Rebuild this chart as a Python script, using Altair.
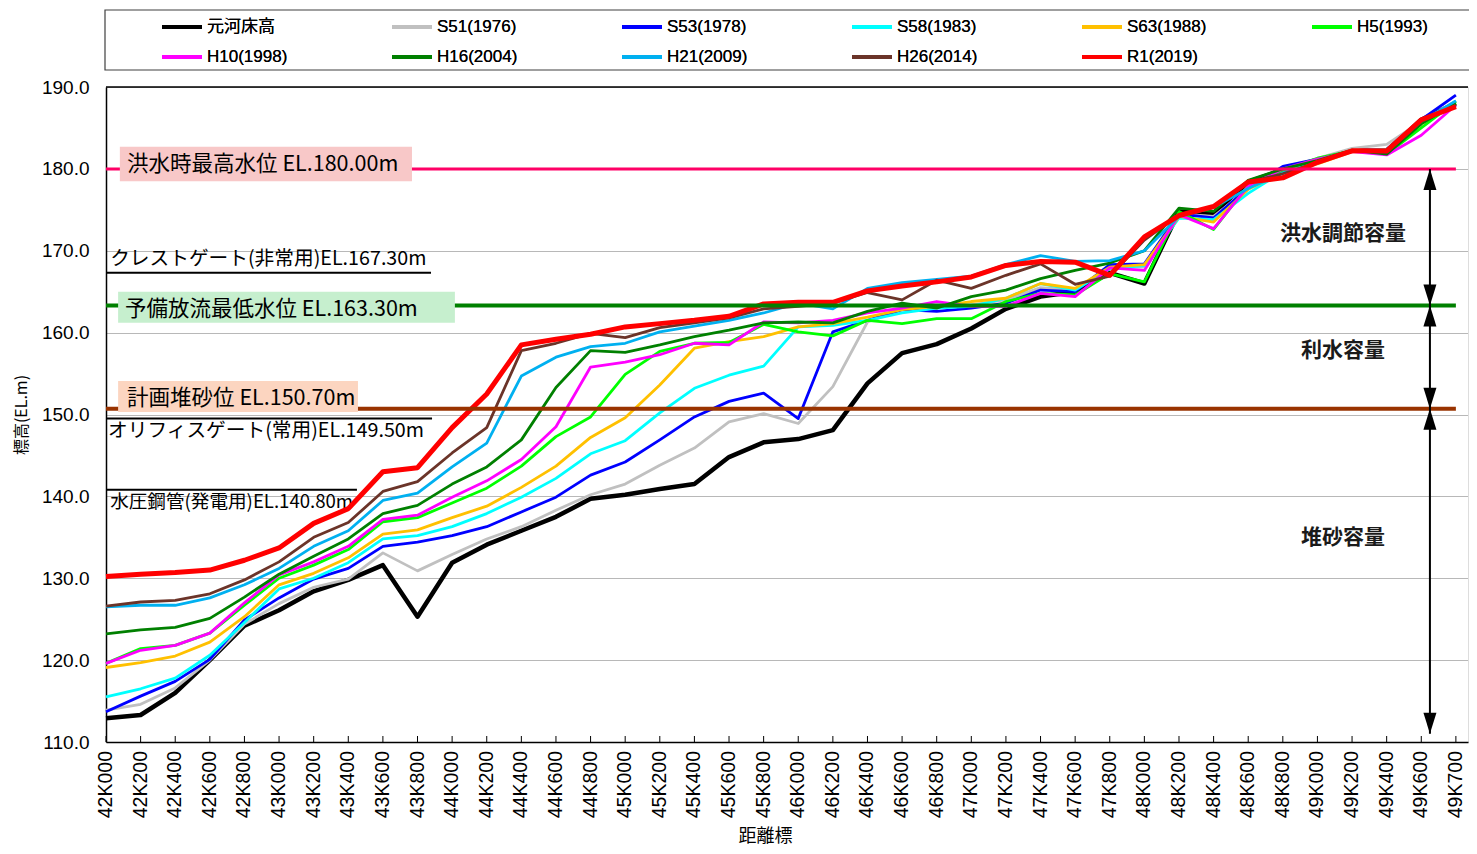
import altair as alt
import pandas as pd

# ---------------- data ----------------
stations = ["42K000", "42K200", "42K400", "42K600", "42K800",
            "43K000", "43K200", "43K400", "43K600", "43K800",
            "44K000", "44K200", "44K400", "44K600", "44K800",
            "45K000", "45K200", "45K400", "45K600", "45K800",
            "46K000", "46K200", "46K400", "46K600", "46K800",
            "47K000", "47K200", "47K400", "47K600", "47K800",
            "48K000", "48K200", "48K400", "48K600", "48K800",
            "49K000", "49K200", "49K400", "49K600", "49K700"]

series_names = ["元河床高", "S51(1976)", "S53(1978)", "S58(1983)", "S63(1988)", "H5(1993)",
                "H10(1998)", "H16(2004)", "H21(2009)", "H26(2014)", "R1(2019)"]
series_colors = ["#000000", "#C0C0C0", "#0000FF", "#00FFFF", "#FFC000", "#00FF00",
                 "#FF00FF", "#008000", "#00B0F0", "#6B3429", "#FF0000"]
series_widths = [4.5, 2.8, 2.8, 2.8, 2.8, 2.8, 2.8, 2.8, 2.8, 2.8, 5]

v_base = [112.9, 113.3, 116.0, 120.0, 124.2, 126.1, 128.4, 129.8, 131.6, 125.3,
          131.9, 134.1, 135.8, 137.5, 139.7, 140.2, 140.9, 141.5, 144.8, 146.6,
          147.0, 148.1, 153.8, 157.5, 158.6, 160.5, 162.9, 164.4, 165.0, 167.3,
          166.0, 174.8, 174.6, 178.4, 179.9, 181.1, 182.3, 182.1, 186.0, 188.0]
v_s51 = [113.9, 114.6, 116.6, 120.0, 124.4, 126.9, 128.9, 129.9, 133.1, 130.9,
         132.9, 134.8, 136.3, 138.3, 140.2, 141.5, 143.8, 145.9, 149.1, 150.1,
         148.9, 153.4, 161.3, 162.8, 163.2, 163.4, 164.0, 165.5, 165.2, 168.0,
         168.0, 174.5, 174.2, 177.5, 180.0, 181.3, 182.5, 183.0, 185.8, 188.3]
v_s53 = [113.7, 115.6, 117.4, 120.1, 124.9, 127.6, 129.9, 131.2, 133.9, 134.4,
         135.2, 136.3, 138.1, 139.9, 142.6, 144.2, 146.9, 149.7, 151.6, 152.6,
         149.5, 160.1, 161.5, 162.8, 162.6, 163.0, 163.6, 165.2, 165.0, 168.3,
         168.4, 174.5, 174.0, 177.7, 180.3, 181.2, 182.2, 182.4, 186.0, 189.0]
v_s58 = [115.5, 116.5, 117.8, 120.6, 124.6, 128.7, 130.0, 131.9, 134.8, 135.2,
         136.3, 137.9, 139.9, 142.2, 145.2, 146.8, 150.2, 153.2, 154.8, 155.9,
         160.7, 160.9, 161.5, 162.4, 163.0, 163.2, 164.2, 166.0, 165.2, 167.8,
         168.2, 174.0, 173.8, 177.0, 179.7, 181.0, 182.2, 182.4, 185.5, 188.3]
v_s63 = [119.1, 119.7, 120.5, 122.2, 125.3, 129.2, 130.6, 132.5, 135.4, 135.9,
         137.4, 138.8, 141.1, 143.7, 147.2, 149.6, 153.6, 158.1, 158.9, 159.5,
         160.7, 161.1, 161.9, 162.8, 163.2, 163.8, 164.2, 166.0, 165.4, 168.0,
         168.3, 174.2, 173.5, 177.5, 179.6, 180.6, 182.1, 182.0, 185.5, 188.0]
v_h5 = [119.6, 121.4, 121.8, 123.3, 126.7, 130.0, 131.6, 133.5, 136.9, 137.4,
        139.2, 141.0, 143.7, 147.3, 149.7, 154.9, 157.7, 158.7, 158.8, 161.0,
        160.1, 159.6, 161.5, 161.1, 161.7, 161.7, 163.8, 164.8, 164.6, 167.2,
        166.2, 174.8, 172.6, 178.0, 179.8, 181.3, 182.2, 181.8, 185.0, 188.2]
v_h10 = [119.6, 121.2, 121.8, 123.3, 127.0, 130.4, 132.0, 133.9, 137.2, 137.7,
         139.9, 141.9, 144.5, 148.5, 155.8, 156.4, 157.3, 158.7, 158.5, 161.3,
         161.2, 161.5, 162.4, 163.0, 163.8, 163.2, 163.2, 164.8, 164.4, 167.9,
         167.6, 174.4, 172.7, 177.9, 180.0, 181.2, 182.1, 181.7, 184.1, 187.8]
v_h16 = [123.2, 123.7, 124.0, 125.1, 127.7, 130.5, 132.7, 134.8, 137.9, 138.9,
         141.5, 143.6, 146.9, 153.3, 157.8, 157.6, 158.5, 159.5, 160.3, 161.2,
         161.3, 161.2, 162.6, 163.6, 163.0, 164.4, 165.2, 166.6, 167.6, 168.5,
         170.0, 175.2, 174.8, 178.6, 180.0, 181.0, 182.3, 181.8, 185.5, 188.0]
v_h21 = [126.5, 126.7, 126.7, 127.6, 129.2, 131.2, 133.9, 135.8, 139.5, 140.4,
         143.6, 146.5, 154.7, 157.0, 158.3, 158.7, 160.1, 160.8, 161.5, 162.4,
         163.6, 162.9, 165.4, 166.1, 166.5, 166.9, 168.3, 169.4, 168.7, 168.8,
         170.0, 174.2, 175.3, 177.6, 179.5, 180.7, 182.2, 182.3, 185.8, 188.3]
v_h26 = [126.6, 127.1, 127.3, 128.1, 129.8, 132.0, 135.0, 136.8, 140.6, 141.8,
         145.3, 148.4, 157.8, 158.7, 159.9, 159.4, 160.6, 161.2, 161.8, 162.9,
         163.2, 163.6, 164.9, 164.0, 166.4, 165.4, 167.0, 168.4, 165.9, 166.9,
         171.3, 174.4, 175.3, 178.4, 179.4, 180.8, 182.2, 182.0, 185.8, 187.7]
v_r1 = [130.2, 130.5, 130.7, 131.0, 132.2, 133.7, 136.7, 138.5, 143.0, 143.5,
        148.4, 152.5, 158.5, 159.2, 159.8, 160.7, 161.1, 161.5, 162.0, 163.5,
        163.7, 163.7, 165.1, 165.7, 166.2, 166.8, 168.2, 168.7, 168.6, 167.0,
        171.7, 174.3, 175.4, 178.4, 178.9, 180.8, 182.2, 182.2, 186.0, 187.6]
all_values = [v_base, v_s51, v_s53, v_s58, v_s63, v_h5, v_h10, v_h16, v_h21, v_h26, v_r1]

# reference water levels
ref_levels = [180.0, 163.3, 150.7]
ref_colors = ["#FF0066", "#008000", "#993300"]
ref_widths = [3, 4, 4]
ref_texts = ["洪水時最高水位 EL.180.00m", "予備放流最低水位 EL.163.30m", "計画堆砂位 EL.150.70m"]
ref_box_fill = ["#F8C8C8", "#C6EFCE", "#FCD5C0"]
ref_box_x0 = [0.40, 0.35, 0.35]
ref_box_x1 = [8.84, 10.08, 7.28]
ref_box_y0 = [178.5, 161.2, 150.3]
ref_box_y1 = [182.7, 165.0, 154.1]
ref_text_x = [0.61, 0.55, 0.61]
ref_text_y = [180.5, 162.8, 151.9]

# outlet levels (thin black lines)
gate_levels = [167.3, 149.5, 140.8]
gate_x1 = [9.39, 9.42, 7.25]
gate_texts = ["クレストゲート(非常用)EL.167.30m", "オリフィスゲート(常用)EL.149.50m", "水圧鋼管(発電用)EL.140.80m"]
gate_text_x = [0.12, 0.06, 0.12]
gate_text_y = [169.0, 148.0, 139.3]
gate_font_sizes = [19.7, 19.7, 18.6]

# capacity labels / arrows
cap_texts = ["洪水調節容量", "利水容量", "堆砂容量"]
cap_text_y = [172.05, 157.76, 134.92]
cap_text_x = 35.74
arrow_x = 38.25
arrow_up_tips = [180.0, 163.3, 150.7]
arrow_down_tips = [163.3, 150.7, 111.0]

# ---------------- tables ----------------
rows = []
for name, vals, w in zip(series_names, all_values, series_widths):
    for i, v in enumerate(vals):
        rows.append({"series": name, "idx": i, "elev": v, "w": w})
df = pd.DataFrame(rows)

n_last = len(stations) - 1
XMAX = 39.35
xscale = alt.Scale(domain=[0, XMAX], nice=False, zero=False)
yscale = alt.Scale(domain=[110, 190], nice=False, zero=False)

LATIN = "Liberation Sans, Noto Sans CJK JP"
CJK = "Noto Sans CJK JP"

lines = alt.Chart(df).mark_line(strokeJoin="round", strokeCap="butt").encode(
    x=alt.X("idx:Q", scale=xscale, axis=alt.Axis(
        values=list(range(len(stations))), labels=False,
        ticks=False, grid=False, domainColor="black", domainWidth=1.5,
        title="距離標", titleFont=CJK, titleFontSize=18, titleFontWeight="normal",
        titleX=659, titleY=99, titleBaseline="alphabetic", titleColor="black")),
    y=alt.Y("elev:Q", scale=yscale, axis=alt.Axis(
        values=[110, 120, 130, 140, 150, 160, 170, 180, 190], format=".1f",
        labelFontSize=19, labelFont=LATIN, labelPadding=17, labelColor="black",
        labelOverlap=False, labelFlush=False,
        ticks=False, grid=True, gridColor="#707070", gridDash=[1, 1], gridWidth=1,
        domainColor="black", domainWidth=1.5,
        title="標高(EL.m)", titleFont=CJK, titleFontSize=16, titleFontWeight="normal",
        titleX=-85, titleY=327.5, titleAngle=270, titleAlign="center",
        titleBaseline="middle", titleColor="black")),
    color=alt.Color("series:N", sort=series_names,
                    scale=alt.Scale(domain=series_names, range=series_colors),
                    legend=alt.Legend(orient="none", legendX=54, legendY=-82, columns=6,
                                      direction="horizontal", symbolType="stroke",
                                      symbolSize=1600, symbolStrokeWidth=4,
                                      labelFontSize=17, labelFont=LATIN, labelColor="black",
                                      labelOffset=3, columnPadding=96, rowPadding=-11,
                                      gridAlign="all", padding=0, title=None)),
    strokeWidth=alt.StrokeWidth("w:Q", scale=None),
)

# legend frame (outside the plot area)
legend_box = alt.Chart(pd.DataFrame({"a": [0]})).mark_rect(
    fill="white", stroke="#404040", strokeWidth=1.2).encode(
    x=alt.value(-1), x2=alt.value(1380), y=alt.value(-77), y2=alt.value(-17))

# top border at 190
top_df = pd.DataFrame({"lvl": [190.0], "x0": [0.0], "x1": [XMAX]})
top_rule = alt.Chart(top_df).mark_rule(color="black", strokeWidth=1.5).encode(
    x=alt.X("x0:Q", scale=xscale), x2="x1:Q",
    y=alt.Y("lvl:Q", scale=yscale))

# inner tick marks + category labels on the x axis
tick_df = pd.DataFrame({"idx": list(range(len(stations))), "station": stations})
ticks = alt.Chart(tick_df).mark_rule(color="black", strokeWidth=1).encode(
    x=alt.X("idx:Q", scale=xscale), y=alt.value(655), y2=alt.value(649))
xlabels = alt.Chart(tick_df).mark_text(angle=270, align="right", baseline="middle",
                                       font=LATIN, fontSize=19.5, color="black").encode(
    x=alt.X("idx:Q", scale=xscale), y=alt.value(664), text="station:N")

# reference level lines
ref_df = pd.DataFrame({"lvl": ref_levels, "color": ref_colors, "w": ref_widths,
                       "x0": [0] * 3, "x1": [n_last] * 3})
ref_rules = alt.Chart(ref_df).mark_rule().encode(
    x=alt.X("x0:Q", scale=xscale), x2="x1:Q",
    y=alt.Y("lvl:Q", scale=yscale),
    color=alt.Color("color:N", scale=None),
    strokeWidth=alt.StrokeWidth("w:Q", scale=None))

box_df = pd.DataFrame({"x0": ref_box_x0, "x1": ref_box_x1, "y0": ref_box_y0, "y1": ref_box_y1,
                       "fill": ref_box_fill, "tx": ref_text_x, "ty": ref_text_y, "t": ref_texts})
ref_boxes = alt.Chart(box_df).mark_rect().encode(
    x=alt.X("x0:Q", scale=xscale), x2="x1:Q",
    y=alt.Y("y0:Q", scale=yscale), y2="y1:Q",
    fill=alt.Fill("fill:N", scale=None))
ref_labels = alt.Chart(box_df).mark_text(align="left", baseline="middle", font=CJK,
                                         fontSize=21.5, color="black").encode(
    x=alt.X("tx:Q", scale=xscale),
    y=alt.Y("ty:Q", scale=yscale), text="t:N")

gate_df = pd.DataFrame({"lvl": gate_levels, "x0": [0] * 3, "x1": gate_x1,
                        "tx": gate_text_x, "ty": gate_text_y, "t": gate_texts,
                        "fs": gate_font_sizes})
gate_rules = alt.Chart(gate_df).mark_rule(color="black", strokeWidth=2).encode(
    x=alt.X("x0:Q", scale=xscale), x2="x1:Q",
    y=alt.Y("lvl:Q", scale=yscale))
gate_labels = alt.Chart(gate_df).mark_text(align="left", baseline="middle", font=CJK,
                                           color="black").encode(
    x=alt.X("tx:Q", scale=xscale),
    y=alt.Y("ty:Q", scale=yscale), text="t:N",
    size=alt.Size("fs:Q", scale=None))

cap_df = pd.DataFrame({"t": cap_texts, "ty": cap_text_y, "tx": [cap_text_x] * 3})
cap_labels = alt.Chart(cap_df).mark_text(align="center", baseline="middle", font=CJK,
                                         fontSize=21, fontWeight="bold", color="#1a1a1a").encode(
    x=alt.X("tx:Q", scale=xscale),
    y=alt.Y("ty:Q", scale=yscale), text="t:N")

arrow_line_df = pd.DataFrame({"x": [arrow_x], "y0": [arrow_up_tips[0]], "y1": [arrow_down_tips[-1]]})
arrow_line = alt.Chart(arrow_line_df).mark_rule(color="black", strokeWidth=2).encode(
    x=alt.X("x:Q", scale=xscale),
    y=alt.Y("y0:Q", scale=yscale), y2="y1:Q")
up_df = pd.DataFrame({"x": [arrow_x] * 3, "y": arrow_up_tips})
down_df = pd.DataFrame({"x": [arrow_x] * 3, "y": arrow_down_tips})
arrows_up = alt.Chart(up_df).mark_point(shape="M0,0L-0.65,2.1L0.65,2.1Z", size=400, filled=True,
                                        color="black", opacity=1, strokeWidth=0).encode(
    x=alt.X("x:Q", scale=xscale), y=alt.Y("y:Q", scale=yscale))
arrows_down = alt.Chart(down_df).mark_point(shape="M0,0L-0.65,-2.1L0.65,-2.1Z", size=400, filled=True,
                                            color="black", opacity=1, strokeWidth=0).encode(
    x=alt.X("x:Q", scale=xscale), y=alt.Y("y:Q", scale=yscale))

chart = alt.layer(
    lines.mark_line(opacity=0), legend_box, top_rule, ticks, xlabels, gate_rules, gate_labels,
    lines, ref_rules, ref_boxes, ref_labels, arrow_line, arrows_up, arrows_down, cap_labels
).resolve_scale(color="independent", fill="independent").properties(
    width=1362, height=655,
    autosize=alt.AutoSizeParams(type="none"),
    padding={"left": 98, "top": 79, "right": 1, "bottom": 104},
).configure_view(stroke=None).configure(background="white")

chart.save("out.html", embed_options={"renderer": "svg", "actions": False})
